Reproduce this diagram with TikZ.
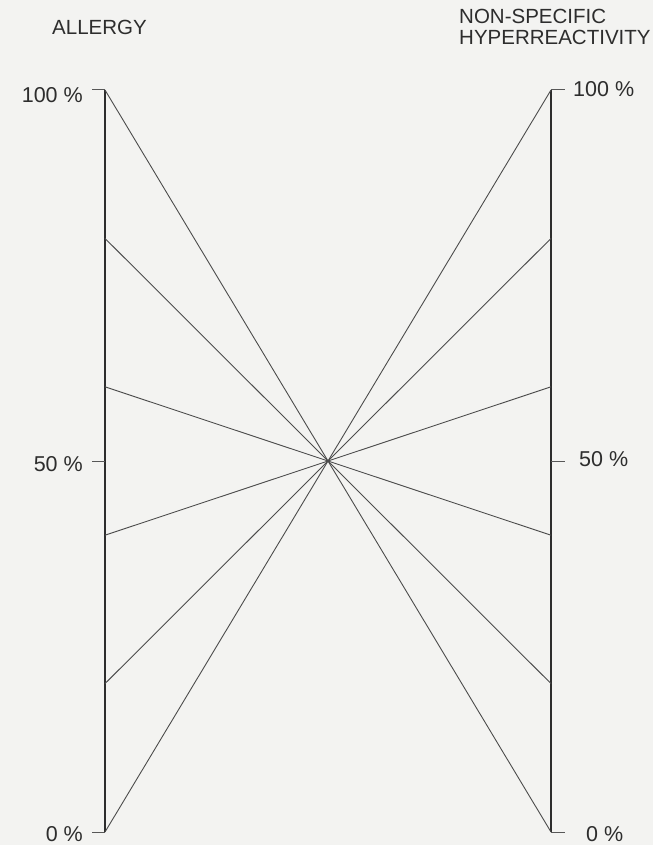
\documentclass[tikz,border=0pt]{standalone}
\usepackage{fontspec}
\setmainfont{Liberation Sans}
\usetikzlibrary{positioning}
\definecolor{ink}{RGB}{45,45,45}
\definecolor{paper}{RGB}{243,243,241}
\tikzset{
  axis/.style={draw=ink,line width=2.4pt},
  ray/.style={draw=ink!85,line width=0.9pt},
  tickmark/.style={draw=ink!80,line width=1pt},
  pct/.style={font=\fontsize{21.5}{23}\selectfont,text=ink,inner sep=0pt},
  heading/.style={font=\fontsize{20.5}{21}\selectfont,text=ink,align=left,inner sep=0pt},
}

\begin{document}
\begin{tikzpicture}[x=1pt,y=-1pt]
  \fill[paper] (0,0) rectangle (653,845);
  \useasboundingbox (0,0) rectangle (653,845);
  % scale points on both axes
  \foreach \p in {0,20,...,100}{
    \coordinate (l\p) at (105,{832-7.42*\p});
    \coordinate (r\p) at (551,{832-7.42*\p});
  }
  \draw[axis] (l0) -- (l100);
  \draw[axis] (r0) -- (r100);
  % rays through the middle
  \foreach \p in {0,20,...,100}{
    \pgfmathtruncatemacro\q{100-\p}
    \draw[ray] (l\p) -- (r\q);
  }
  % ticks and labels
  \coordinate (l50) at (105,461);
  \coordinate (r50) at (551,461);
  \foreach \p/\t/\s in {100/100 \%/-5pt,50/50 \%/-3pt,0/0 \%/-2pt}{
    \draw[tickmark] (l\p) -- ++(-13,0) coordinate (tl\p);
    \draw[tickmark] (r\p) -- ++(14,0) coordinate (tr\p);
    \node[pct,left=9pt of tl\p,yshift=\s] (labl\p) {\t};
  }
  \node[pct,right=8pt of tr100,yshift=1pt] (labr100) {100 \%};
  \node[pct,right=14pt of tr50,yshift=2pt] (labr50) {50 \%};
  \node[pct,right=21pt of tr0,yshift=-2pt] (labr0) {0 \%};
  % headings
  \node[heading,anchor=west] (allergy) at (52,27) {ALLERGY};
  \node[heading,anchor=north west] (nsh) at (459,9) {NON-SPECIFIC\\HYPERREACTIVITY};
\end{tikzpicture}
\end{document}
